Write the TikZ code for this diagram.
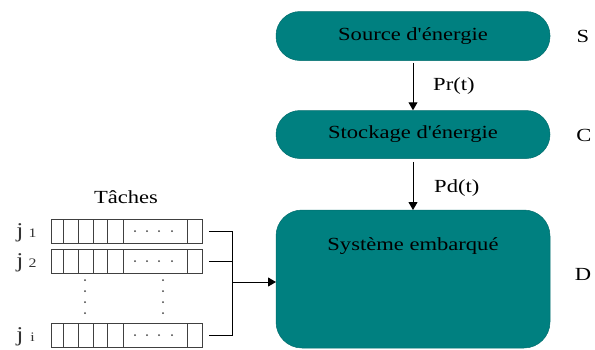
\documentclass[tikz,border=0pt]{standalone}
\usepackage{fontspec}
\setmainfont[FakeStretch=1.22, Ligatures=TeXOff]{Liberation Serif}
\usetikzlibrary{arrows.meta,calc}
\definecolor{tealbox}{RGB}{0,128,128}
\tikzset{
  blk/.style={fill=tealbox, draw=tealbox!85!black, line width=0.5pt, minimum width=274pt, font=\fontsize{18.5}{20}\selectfont, text=black},
  flow/.style={draw=black, line width=1pt, -{Triangle[length=8pt,width=9pt]}},
  lbl/.style={font=\fontsize{18.5}{20}\selectfont, inner sep=0pt},
  row/.style={draw=black!75, line width=0.9pt, minimum width=151pt, minimum height=24pt, inner sep=0pt},
  jl/.style={font=\fontsize{21}{22}\selectfont, text=black!80, inner sep=0pt, anchor=base},
  jn/.style={font=\fontsize{13}{14}\selectfont, text=black!80, inner sep=0pt, anchor=base},
  dotc/.style={fill=black!75, circle, inner sep=0pt, minimum size=2pt},
  wire/.style={draw=black, line width=1pt}
}
\begin{document}
\begin{tikzpicture}[x=1pt,y=-1pt]
\useasboundingbox (0,0) rectangle (595,349);
% main blocks
\node[blk, minimum height=49pt, rounded corners=24pt] (src) at (413,36) {Source d'énergie};
\node[blk, minimum height=48pt, rounded corners=24pt] (sto) at (413,134.5) {Stockage d'énergie};
\path[fill=tealbox, draw=tealbox!85!black, line width=0.5pt, rounded corners=26pt] (276,210) rectangle (550,348);
\node[lbl] (sys) at (413,246) {Système embarqué};
\coordinate (systop) at (413,210);
\coordinate (sysleft) at (276,282);
% side letters
\node[lbl] (S) at (583,36) {S};
\node[lbl] (C) at (584,135) {C};
\node[lbl] (D) at (583,274) {D};
% arrows
\draw[flow] (src.south) ++(0,2) -- (sto.north);
\node[lbl, anchor=west] (pr) at (433,86) {Pr(t)};
\draw[flow] (sto.south) ++(0,3) -- (systop);
\node[lbl, anchor=west] (pd) at (434,188) {Pd(t)};
% tasks
\node[lbl] (tache) at (126,197) {Tâches};
\foreach \n/\y in {r1/231, r2/261, ri/335}{
  \node[row] (\n) at (126.5,\y) {};
  \foreach \xx in {63,78,93,107,123,187}{
    \draw[draw=black!75, line width=0.9pt] (\xx,\y-12) -- (\xx,\y+12);
  }
  \foreach \xx in {135,147,159,172}{
    \node[dotc] at (\xx,\y) {};
  }
}
\foreach \xx in {85,163}{
  \foreach \yy in {280,291,302,313}{
    \node[dotc] at (\xx,\yy) {};
  }
}
\node[jl] (j1) at (20,237) {j};
\node[jn] (n1) at (32.5,237) {1};
\node[jl] (j2) at (20,267) {j};
\node[jn] (n2) at (32.5,267) {2};
\node[jl] (ji) at (20,341) {j};
\node[jn] (ni) at (32.5,341) {i};
% wiring
\coordinate (bus) at (232,282);
\draw[wire] ([xshift=7pt]r1.east) -| (bus);
\draw[wire] ([xshift=7pt]ri.east) -| (bus);
\draw[wire] ([xshift=7pt]r2.east) -- (r2.east -| bus);
\draw[flow] (bus) -- (sysleft);
\end{tikzpicture}
\end{document}
